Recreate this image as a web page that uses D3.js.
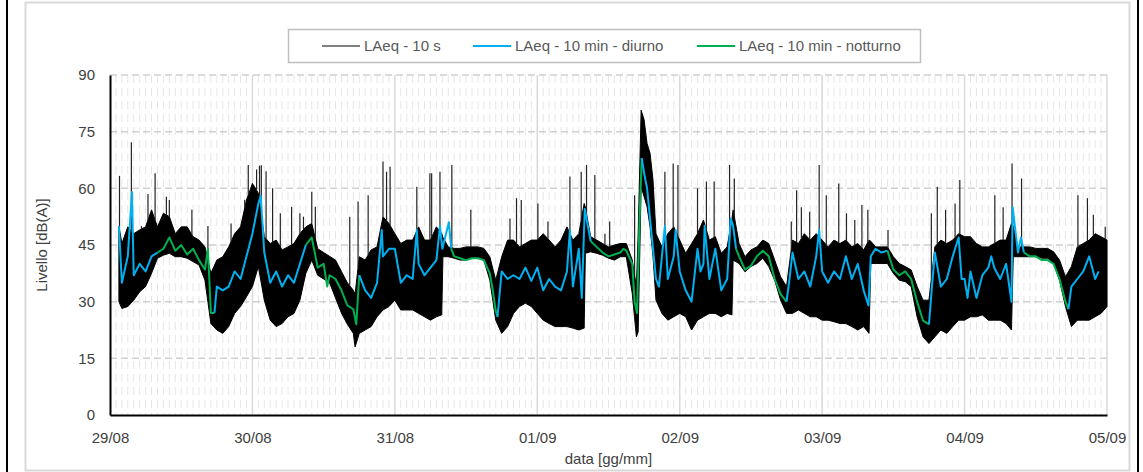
<!DOCTYPE html>
<html>
<head>
<meta charset="utf-8">
<script src="https://cdn.jsdelivr.net/npm/d3@7"></script>
<style>
  body { margin: 0; background: #fff; }
  text { font-family: "Liberation Sans", Arial, sans-serif; }
</style>
</head>
<body>
<div id="chart"></div>
<script>
// giorni sull'asse x (ore dal 29/08 00:00)
const etichetteGiorni = [`29/08`, `30/08`, `31/08`, `01/09`, `02/09`, `03/09`, `04/09`, `05/09`];
const tickLivello = [0, 15, 30, 45, 60, 75, 90];

// LAeq - 10 s : inviluppo della banda fitta (ore, minimo, massimo)
const oreBanda = [1.5, 2, 3, 4, 5, 6, 7, 8, 9, 10, 11, 12, 13, 14, 15, 16, 17, 18, 19, 20, 21, 22, 23, 24, 25, 26, 27, 28, 29, 30,
  31, 32, 33, 34, 35, 36, 37, 38, 39, 40, 41, 41.3, 42, 43, 44, 45, 46, 47, 48, 49, 50, 51, 52, 53, 54, 55, 55.9, 56.1, 57, 58,
  59, 60, 61, 62, 63, 64, 65, 66, 67, 68, 69, 70, 71, 72, 73, 74, 75, 76, 77, 78, 79, 79.9, 80.1, 81, 82, 83, 84, 85, 86, 87,
  88, 88.7, 89, 89.5, 90, 90.5, 91, 91.5, 92, 93, 94, 95, 96, 97, 98, 99, 100, 101, 102, 103, 104, 104.8, 105, 106, 107, 108, 109, 110,
  111, 112, 113, 114, 115, 116, 117, 118, 119, 120, 121, 122, 123, 124, 125, 126, 127, 127.9, 128.2, 129, 130, 131, 132, 133, 134, 135, 136, 137,
  138, 139, 140, 141, 142, 143, 144, 145, 146, 147, 148, 149, 150, 151, 151.9, 152.2, 153, 154, 155, 156, 157, 158, 159, 160, 161, 162,
  163, 164, 165, 166, 167, 168];
const bandaMin = [30, 28.2, 28.7, 30.4, 32.6, 34, 37.5, 41.5, 42.3, 42.8, 41.9, 41.9, 41.5, 40.6, 39.7, 35.7, 24.2, 22.5, 21.6, 23.4, 26.9, 28.7, 31.3, 34, 39.3, 30.4, 25.1, 23.4, 24.2, 26,
  26.9, 30.4, 37.5, 41, 37, 36, 35, 31, 27, 24, 21.6, 18, 21.6, 22.5, 23.4, 26, 27.8, 28.7, 30.4, 27.8, 27.8, 27.8, 26.9, 26, 25.1, 26, 26.5, 41.9, 41.9, 41.5,
  41, 41, 41.5, 41.5, 41, 35.7, 25.1, 21.6, 23.4, 26.9, 28.7, 29.6, 28.7, 26.9, 25.1, 24.2, 23.4, 23.4, 23.4, 23, 22.5, 23, 42.8, 43.2, 42.8, 42.3, 41.5, 41, 41.9, 41.9,
  32.2, 20.7, 22, 60.4, 57.8, 55.1, 49.8, 41.9, 30.4, 26.9, 25.1, 26, 26.9, 26, 22.5, 25.1, 26, 26.9, 26.9, 26, 26.9, 26.5, 41, 40.1, 37.9, 39.3, 40.1, 41.5,
  39.3, 35.7, 30.4, 26.9, 26.9, 27.8, 26.9, 26, 26, 25.1, 25.1, 24.7, 24.2, 24.2, 23.4, 22.5, 23.4, 21.6, 40.1, 40.1, 40.1, 40.1, 37.5, 35.7, 35.3, 34, 26, 20.7,
  18.9, 20.7, 22.5, 21.6, 23.4, 25.1, 25.1, 26, 26, 26.5, 25.1, 25.1, 25.1, 24.2, 22.5, 41.9, 41.9, 41.9, 41.9, 41.9, 41.5, 41.5, 40.1, 35.7, 28.7, 23.4,
  25.1, 25.1, 25.1, 26, 26.9, 28.7];
const bandaMax = [50, 45.4, 49.8, 48, 49, 49.8, 54.3, 49.8, 53.4, 52.5, 48, 49.8, 49.8, 47.2, 46.3, 44.5, 37.5, 41, 41.9, 44.5, 48, 49.8, 56.9, 61.3, 58.7, 47.2, 45.4, 46.3, 43.7, 44.5,
  45.4, 48, 49.8, 50.7, 44, 43, 42, 41, 38, 35, 33, 32, 41.9, 41, 43.7, 44.5, 52.5, 50.7, 48, 45.4, 46.3, 46.3, 49.8, 46.3, 46.3, 49.8, 48, 47, 44.5, 44.1,
  44.1, 44.5, 44.5, 44.5, 44.1, 41.9, 35.7, 41.9, 46.3, 46.3, 44.5, 45.4, 46.3, 46.3, 48, 46.3, 44.5, 46.3, 49.8, 46.3, 48, 56, 55, 47.2, 46.3, 45.4, 44.5, 45, 45.4, 45.4,
  41, 34, 48, 80.7, 78.1, 71.9, 69.3, 62.2, 48, 44.5, 48, 49.8, 46.3, 42.8, 45.4, 48, 51.6, 46.3, 47.2, 42.8, 44.5, 52, 54.3, 45.4, 41.9, 43.7, 44.5, 46.3,
  45.4, 41, 36.6, 34, 46.3, 45.4, 48, 46.3, 48, 46.3, 44.5, 46.3, 45.4, 46.3, 44.5, 45.4, 43.7, 46.3, 46, 44.5, 44.5, 44.5, 41.9, 40.1, 39.3, 38.4, 34, 30.4,
  30.4, 44.5, 46.3, 45.4, 46.3, 48, 47.2, 47.2, 45.4, 44.5, 44.5, 45.4, 46.3, 46.3, 50.7, 50, 44.5, 44.5, 44.5, 44.1, 44.1, 44.1, 43.2, 41, 36.6, 39.3,
  44.5, 45.4, 46.3, 48, 47.2, 46.3];

// LAeq - 10 s : picchi isolati (ore, livello)
const orePicchi = [1.6, 3.6, 5.3, 6.4, 7.6, 9.5, 10, 13.8, 16.5, 20.4, 22.7, 23.3, 24.7, 25.2, 25.5, 26.3, 27.4, 28.7, 30.6, 32,
  32.6, 34, 34.6, 40.4, 41.8, 43.5, 46, 46.6, 47.2, 51.7, 53.9, 54.2, 55.6, 57.6, 60.8, 67.4, 68.5, 69.3, 72.1, 73.8,
  77.5, 79.4, 80.3, 81.7, 83.4, 84.2, 88.4, 93.5, 94.9, 95.7, 99, 100.5, 101.8, 104.4, 105.2, 114.8, 115.7, 116.5, 117.9, 119.5,
  120.7, 122.8, 124.1, 125.5, 126.7, 127.7, 131.1, 138.4, 139.4, 140.8, 142.4, 143.2, 149.1, 150.5, 152, 153.6, 163.1, 164.7, 165.7, 167.7];
const livelloPicchi = [63.3, 72.2, 50, 58.5, 64, 57.8, 56.9, 54.3, 50, 50.7, 57, 66.2, 65, 66, 66.1, 64.5, 60, 53.4, 55.1, 53.4,
  52.5, 59.1, 55.1, 52.5, 56.5, 58.2, 67.1, 64.4, 65.7, 60.4, 64, 64, 64.4, 66.2, 54.3, 52, 57.4, 56.9, 56, 51.2,
  63.1, 64.4, 66.2, 63.5, 48, 51.2, 58.2, 64.4, 66.6, 66.2, 60, 61.8, 61.8, 66.2, 62.6, 51.2, 59.5, 55, 53.8, 66.2,
  58.2, 61.3, 53.4, 51.6, 55.6, 54.3, 49, 53.4, 60.4, 54.3, 56, 62.2, 58.2, 55, 66.6, 62.6, 58.2, 57.4, 53, 49.8];

// LAeq - 10 min (ore, livello)
const ore10min = [1.5, 2, 3, 3.7, 4, 5, 6, 7, 8, 9, 10, 11, 12, 13, 14, 15, 16, 16.5, 17, 17.6, 18, 19, 20, 21, 22, 23, 24, 25, 25.4, 26,
  27, 28, 29, 30, 31, 32, 33, 34, 35, 36, 36.6, 37, 38, 39, 40, 41, 41.5, 42, 43, 44, 45, 45.8, 46, 47, 48, 49, 50, 51, 51.7, 52,
  53, 54, 55, 55.6, 56, 57.1, 57.5, 58, 59, 60, 61, 62, 63, 64, 64.5, 65, 65.3, 66, 67, 68, 69, 70, 71, 72, 73, 74, 75, 76, 77, 77.5,
  78, 79, 79.5, 80, 81, 82, 83, 84, 85, 86, 86.5, 87, 88, 88.4, 88.8, 89.3, 89.6, 89.8, 90, 90.5, 91, 91.5, 92, 92.5, 93, 93.5, 94, 95,
  95.3, 96, 97, 98, 99, 99.5, 100, 100.2, 101, 102, 103, 104, 104.6, 105, 105.5, 106, 107, 108, 109, 110, 111, 112, 113, 114, 114.5, 115, 116, 117,
  118, 119, 119.5, 120, 121, 122, 123, 124, 125, 126, 127, 127.8, 128.2, 129, 130, 131, 132, 133, 134, 135, 136, 137, 138, 138.5, 139, 140, 141, 142,
  143, 143.5, 144, 144.5, 145, 146, 147, 148, 148.5, 149, 150, 151, 151.9, 152.1, 153, 153.5, 154, 155, 156, 157, 158, 159, 160, 161, 161.5, 162, 163, 164,
  165, 166, 166.6];
const laeq10min = [50, 35, 42, 59, 37, 40, 38, 42, 43, 44, 47, 43.5, 45, 42.5, 44, 41, 38.5, 44, 27, 27, 34, 33, 34, 38, 36, 42, 48, 56, 58, 43,
  35, 38, 34, 37, 35, 40, 45, 47, 39, 40, 34, 37, 36, 33, 29, 28, 24, 37, 33, 31, 35, 49, 42, 44, 44, 35, 37, 36, 49, 40,
  37, 39, 41, 50, 44, 51, 44, 42, 41.5, 41, 41.5, 41.5, 41, 37.5, 33, 27.5, 26, 38, 36, 37, 36, 39, 35.5, 39, 33, 36, 34, 33, 38, 49,
  34, 44, 31, 54.5, 46, 44.5, 43, 42, 42.5, 43, 44, 43.5, 40, 30, 27, 55, 68, 66, 64, 60, 52, 44, 36, 34, 42, 50, 36, 42,
  49, 38, 33, 30, 44, 38, 40, 50, 36, 44, 33, 36, 52, 50, 44, 42, 38.5, 39.5, 42, 43.5, 42, 36, 32, 30, 36, 43, 36, 38,
  34, 42, 49, 38, 35, 38, 36, 42, 36, 40, 33, 29, 42, 44, 43, 43.5, 38.5, 37, 38, 36, 30, 25, 24, 34, 43, 34, 36, 42,
  47, 36, 36, 31, 38, 31, 37, 39, 42, 39, 36, 40, 30, 55, 43, 47, 43, 42, 42, 41, 41, 40, 36, 30, 28, 34, 36, 38,
  42, 36, 38];

// periodi notturni (inizio, fine in ore)
const notteInizio = [8.5, 33.3, 57.4, 81.3, 105.4, 131, 153.8];
const notteFine = [17.6, 41.9, 65.5, 89.6, 114.2, 138.2, 161.5];

const W = 1143, H = 472;
const margin = { top: 75, right: 36, bottom: 57, left: 110 };
const width = W - margin.left - margin.right;
const height = H - margin.top - margin.bottom;

const svg = d3.select(`#chart`).append(`svg`)
    .attr(`width`, W)
    .attr(`height`, H);

// cornice
svg.append(`rect`)
  .attr(`x`, 25.5).attr(`y`, 2.5)
  .attr(`width`, 1104).attr(`height`, 468)
  .attr(`fill`, `none`).attr(`stroke`, `#d9d9d9`).attr(`stroke-width`, 2);
svg.append(`line`).attr(`x1`, 7).attr(`x2`, 7).attr(`y1`, 0).attr(`y2`, H)
  .attr(`stroke`, `#000`).attr(`stroke-width`, 2);
svg.append(`line`).attr(`x1`, 1138).attr(`x2`, 1138).attr(`y1`, 0).attr(`y2`, H)
  .attr(`stroke`, `#000`).attr(`stroke-width`, 2);

const g = svg.append(`g`)
    .attr(`transform`, `translate(${margin.left}, ${margin.top})`);

const x = d3.scaleLinear().domain([0, 168]).range([0, width]);
const y = d3.scaleLinear().domain([0, 90]).range([height, 0]);

// griglia secondaria (ogni ora)
g.append(`g`).selectAll(`line`)
  .data(d3.range(1, 168).filter(h => h % 24 !== 0))
  .enter().append(`line`)
    .attr(`x1`, d => x(d)).attr(`x2`, d => x(d))
    .attr(`y1`, 0).attr(`y2`, height)
    .attr(`stroke`, `#e6e6e6`).attr(`stroke-width`, 1)
    .attr(`stroke-dasharray`, `8,5`);

// griglia principale
g.append(`g`).selectAll(`line`)
  .data(tickLivello.slice(1))
  .enter().append(`line`)
    .attr(`x1`, 0).attr(`x2`, width)
    .attr(`y1`, d => y(d)).attr(`y2`, d => y(d))
    .attr(`stroke`, `#d0d0d0`).attr(`stroke-width`, 1.5)
    .attr(`stroke-dasharray`, `7,4`);
g.append(`g`).selectAll(`line`)
  .data(d3.range(24, 169, 24))
  .enter().append(`line`)
    .attr(`x1`, d => x(d)).attr(`x2`, d => x(d))
    .attr(`y1`, 0).attr(`y2`, height)
    .attr(`stroke`, `#d9d9d9`).attr(`stroke-width`, 1.5);

// LAeq - 10 s
const banda = oreBanda.map((t, i) => ({ t, lo: bandaMin[i], hi: bandaMax[i] }));
g.append(`path`)
  .datum(banda)
  .attr(`fill`, `#000`)
  .attr(`stroke`, `#000`)
  .attr(`stroke-width`, 1)
  .attr(`d`, d3.area().x(d => x(d.t)).y0(d => y(d.lo)).y1(d => y(d.hi)));

const bis = d3.bisector(d => d.t).left;
const baseAt = t => {
  const i = Math.max(1, Math.min(banda.length - 1, bis(banda, t)));
  const a = banda[i - 1], b = banda[i];
  return a.hi + (b.hi - a.hi) * (t - a.t) / (b.t - a.t);
};
g.append(`g`).selectAll(`line`)
  .data(orePicchi.map((t, i) => ({ t, v: livelloPicchi[i] })))
  .enter().append(`line`)
    .attr(`x1`, d => x(d.t)).attr(`x2`, d => x(d.t))
    .attr(`y1`, d => y(baseAt(d.t))).attr(`y2`, d => y(d.v))
    .attr(`stroke`, `#222`).attr(`stroke-width`, 1.2);

// LAeq - 10 min, diurno / notturno
const isNotte = t => notteInizio.some((a, i) => t >= a && t <= notteFine[i]);
const punti = ore10min.map((t, i) => ({ t, v: laeq10min[i] }));
const tratti = [];
for (let i = 1; i < punti.length; i++) {
  const notte = isNotte((punti[i - 1].t + punti[i].t) / 2);
  const last = tratti[tratti.length - 1];
  if (last && last.notte === notte) last.pts.push(punti[i]);
  else tratti.push({ notte, pts: [punti[i - 1], punti[i]] });
}
const linea = d3.line().x(d => x(d.t)).y(d => y(d.v));
g.append(`g`).selectAll(`path`)
  .data(tratti)
  .enter().append(`path`)
    .attr(`fill`, `none`)
    .attr(`stroke`, d => d.notte ? `#00b050` : `#00b0f0`)
    .attr(`stroke-width`, 2)
    .attr(`stroke-linejoin`, `round`)
    .attr(`d`, d => linea(d.pts));

// assi
const xAxis = g.append(`g`)
  .attr(`transform`, `translate(0,${height})`)
  .call(d3.axisBottom(x).tickValues(d3.range(0, 169, 24))
    .tickFormat((d, i) => etichetteGiorni[i]).tickSize(0).tickPadding(17));
const yAxis = g.append(`g`)
  .call(d3.axisLeft(y).tickValues(tickLivello).tickSize(0).tickPadding(15));
[xAxis, yAxis].forEach(a => {
  a.select(`.domain`).attr(`stroke`, `#000`).attr(`stroke-width`, 2);
  a.selectAll(`text`).attr(`font-size`, 15).attr(`fill`, `#404040`);
});

g.append(`text`)
  .attr(`transform`, `translate(-63,${height / 2}) rotate(-90)`)
  .attr(`text-anchor`, `middle`)
  .attr(`font-size`, 15).attr(`fill`, `#404040`)
  .text(`Livello [dB(A)]`);
g.append(`text`)
  .attr(`x`, width / 2).attr(`y`, height + 49)
  .attr(`text-anchor`, `middle`)
  .attr(`font-size`, 15).attr(`fill`, `#404040`)
  .text(`data [gg/mm]`);

// legenda
const voci = [
  { nome: `LAeq - 10 s`, colore: `#000`, sw: 1 },
  { nome: `LAeq - 10 min - diurno`, colore: `#00b0f0`, sw: 2 },
  { nome: `LAeq - 10 min - notturno`, colore: `#00b050`, sw: 2 }
];
const leg = svg.append(`g`);
leg.append(`rect`)
  .attr(`x`, 288.5).attr(`y`, 29.5).attr(`width`, 632).attr(`height`, 33)
  .attr(`fill`, `#fff`).attr(`stroke`, `#bfbfbf`).attr(`stroke-width`, 1.5);
const posVoci = [322, 473, 697];
voci.forEach((v, i) => {
  leg.append(`line`)
    .attr(`x1`, posVoci[i]).attr(`x2`, posVoci[i] + 38)
    .attr(`y1`, 46).attr(`y2`, 46)
    .attr(`stroke`, v.colore).attr(`stroke-width`, v.sw);
  leg.append(`text`)
    .attr(`x`, posVoci[i] + 42).attr(`y`, 51)
    .attr(`font-size`, 15).attr(`fill`, `#595959`)
    .text(v.nome);
});
</script>
</body>
</html>
